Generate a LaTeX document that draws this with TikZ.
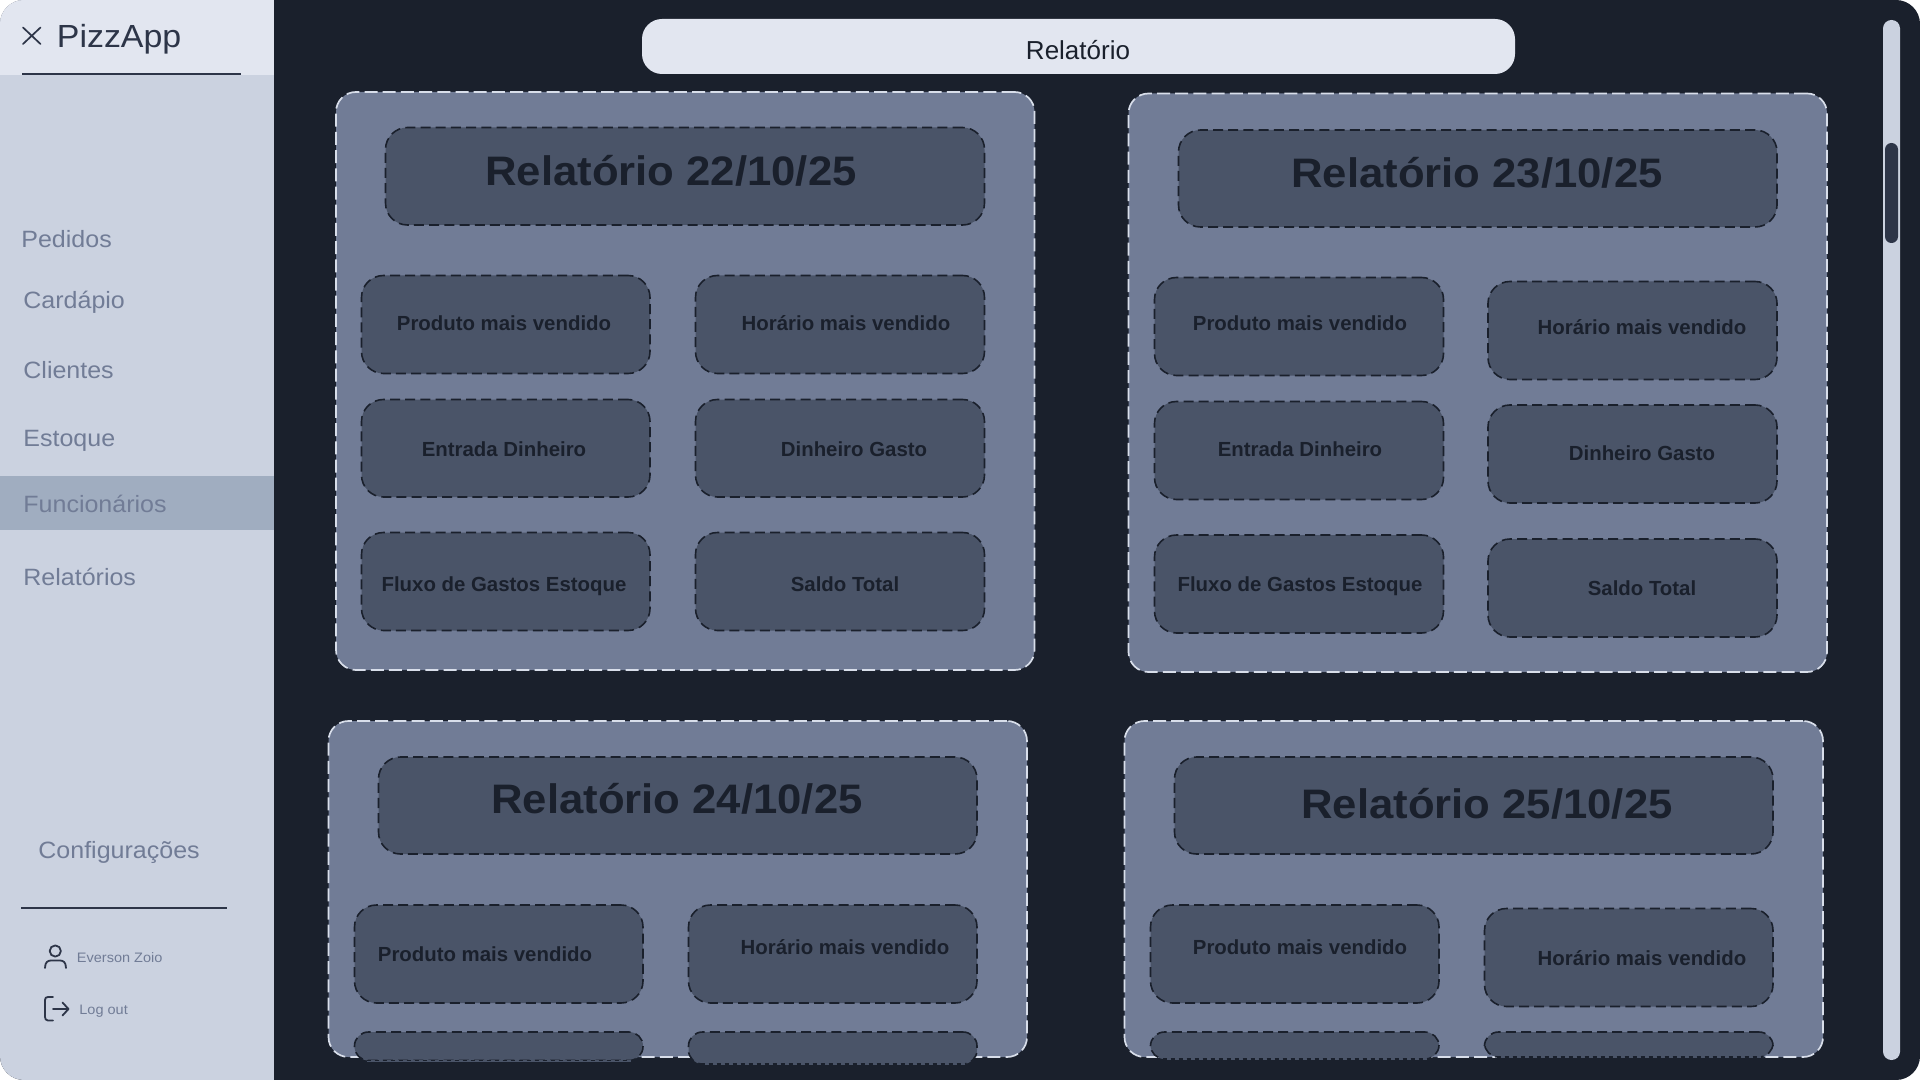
\documentclass[tikz,border=0pt]{standalone}
\usepackage{fontspec}
\setmainfont{Liberation Sans}[FakeStretch=1.06]
\newfontfamily\plainsans{Liberation Sans}
\definecolor{bgdark}{HTML}{1A202C}
\definecolor{side}{HTML}{CBD2E0}
\definecolor{head}{HTML}{E2E6F0}
\definecolor{slate}{HTML}{717C96}
\definecolor{cellc}{HTML}{4A5468}
\definecolor{ink}{HTML}{2D3548}
\definecolor{hilite}{HTML}{A0ADC0}
\definecolor{edge}{HTML}{D8DEEA}
\tikzset{
  panelbox/.style={fill=slate,draw=edge,line width=.85pt,dash pattern=on 6.5pt off 2.6pt,rounded corners=10pt},
  titlebox/.style={fill=cellc,draw=bgdark,line width=.8pt,dash pattern=on 5pt off 2.6pt,rounded corners=11pt},
  cellbox/.style={titlebox},
  stubbox/.style={fill=cellc,draw=bgdark,line width=.8pt,dash pattern=on 5pt off 2.6pt,rounded corners=7pt},
  titletext/.style={font=\fontsize{20.6}{24}\selectfont\bfseries,text=bgdark,yshift=-4.8pt},
  celltext/.style={font=\plainsans\fontsize{10.2}{12}\selectfont\bfseries,text=bgdark,yshift=-1.2pt},
  menutext/.style={font=\fontsize{11.8}{14}\selectfont,text=slate,yshift=-1.6pt},
  smalltext/.style={font=\fontsize{6.85}{9}\selectfont,text=slate},
  icon/.style={draw=ink,line width=.9pt,line cap=round,line join=round},
  stubedgeA/.style={draw=cellc,line width=1pt},
  stubedgeB/.style={draw=bgdark,line width=.75pt,dash pattern=on 2pt off 2pt},
}
\newcommand{\bx}[6]{%
  \pgfmathsetmacro{\cxv}{(#2+#4)/2}\pgfmathsetmacro{\cyv}{(#3+#5)/2}%
  \pgfmathsetmacro{\wv}{(#4-#2)*.5}\pgfmathsetmacro{\hv}{(#5-#3)*.5}%
  \node[#6,inner sep=0pt,outer sep=0pt,minimum width=\wv pt,minimum height=\hv pt] (#1) at (\cxv,\cyv) {};}
\newcommand{\lb}[5]{\node[#4,anchor=mid,inner sep=0pt] (#1) at (#2,#3) {#5};}
\newcommand{\lbl}[5]{\node[#4,anchor=mid west,inner sep=0pt] (#1) at (#2,#3) {#5};}
\newcommand{\stubfix}[1]{%
  \draw[stubedgeA] ([xshift=6pt]#1.south west) -- ([xshift=-6pt]#1.south east);
  \draw[stubedgeB] ([xshift=6pt]#1.south west) -- ([xshift=-6pt]#1.south east);}
\begin{document}
\begin{tikzpicture}[x=.5pt,y=-.5pt]
\useasboundingbox (0,0) rectangle (1920,1080);
\fill[white] (0,0) rectangle (1920,1080);
\begin{scope}
\clip[rounded corners=12pt] (0,0) rectangle (1920,1080);
\fill[bgdark] (0,0) rectangle (1920,1080);
\fill[side] (0,0) rectangle (274,1080);
\fill[head] (0,0) rectangle (274,75);
\fill[hilite] (0,476) rectangle (274,530);
\end{scope}
% sidebar
\draw[icon,line width=.85pt] (23,27.5) -- (40.5,44) (40.5,27.5) -- (23,44);
\lbl{brand}{56.5}{36}{font=\fontsize{16}{20}\selectfont,text=ink,yshift=-3pt}{PizzApp}
\draw[ink,line width=.9pt] (22,74) -- (241,74);
\lbl{mPed}{21}{239}{menutext}{Pedidos}
\lbl{mCar}{23}{300}{menutext}{Cardápio}
\lbl{mCli}{23}{370}{menutext}{Clientes}
\lbl{mEst}{23}{438}{menutext}{Estoque}
\lbl{mFun}{23}{504}{menutext}{Funcionários}
\lbl{mRel}{23}{577}{menutext}{Relatórios}
\lbl{mCfg}{38}{850}{menutext}{Configurações}
\draw[ink,line width=.9pt] (21,908) -- (227,908);
\draw[icon] (55.3,951) circle[radius=5.6];
\draw[icon] (45,968) .. controls (45,962) and (48,960.5) .. (51,960.5) -- (60,960.5) .. controls (63,960.5) and (66,962) .. (66,968);
\lbl{mUser}{76.5}{957}{smalltext}{Everson Zoio}
\draw[icon] (53,997) -- (48,997) .. controls (46,997) and (45,998) .. (45,1000) -- (45,1017) .. controls (45,1019) and (46,1020.5) .. (48,1020.5) -- (53,1020.5);
\draw[icon] (53,1009) -- (68.5,1009) (62.5,1002.5) -- (68.5,1009) -- (62.5,1015.5);
\lbl{mOut}{79}{1009}{smalltext}{Log out}
% top bar
\bx{topbar}{642}{19}{1515}{74}{fill=head,rounded corners=10pt}
\lb{topbarT}{1078}{50}{font=\plainsans\fontsize{13}{16}\selectfont,text=bgdark,yshift=-2.3pt}{Relatório}
% scrollbar
\bx{track}{1883}{20}{1900}{1060}{fill=side,rounded corners=4.2pt}
\bx{thumb}{1885}{143}{1898}{243}{fill=ink,rounded corners=3.2pt}
% panel A
\bx{A}{336}{92}{1034.5}{670}{panelbox}
\bx{At}{385.5}{127.5}{984.5}{225}{titlebox}
\lb{AtT}{671}{171}{titletext}{Relatório 22/10/25}
\bx{A1}{361.5}{275.5}{650}{373.5}{cellbox}
\bx{A2}{695.5}{275.5}{984.5}{373.5}{cellbox}
\bx{A3}{361.5}{399.5}{650}{497}{cellbox}
\bx{A4}{695.5}{399.5}{984.5}{497}{cellbox}
\bx{A5}{361.5}{532.5}{650}{630.5}{cellbox}
\bx{A6}{695.5}{532.5}{984.5}{630.5}{cellbox}
\lb{A1T}{504}{323}{celltext}{Produto mais vendido}
\lb{A2T}{846}{323}{celltext}{Horário mais vendido}
\lb{A3T}{504}{449}{celltext}{Entrada Dinheiro}
\lb{A4T}{854}{449}{celltext}{Dinheiro Gasto}
\lb{A5T}{504}{584}{celltext}{Fluxo de Gastos Estoque}
\lb{A6T}{845}{584}{celltext}{Saldo Total}
% panel B
\bx{B}{1128.5}{93.5}{1827}{672}{panelbox}
\bx{Bt}{1178.5}{130}{1777}{227}{titlebox}
\lb{BtT}{1477}{173}{titletext}{Relatório 23/10/25}
\bx{B1}{1154.5}{277.5}{1443.5}{375.5}{cellbox}
\bx{B2}{1488}{281.5}{1777}{379.5}{cellbox}
\bx{B3}{1154.5}{401.5}{1443.5}{499.5}{cellbox}
\bx{B4}{1488}{405}{1777}{503}{cellbox}
\bx{B5}{1154.5}{535}{1443.5}{633}{cellbox}
\bx{B6}{1488}{539}{1777}{637}{cellbox}
\lb{B1T}{1300}{323}{celltext}{Produto mais vendido}
\lb{B2T}{1642}{327}{celltext}{Horário mais vendido}
\lb{B3T}{1300}{449}{celltext}{Entrada Dinheiro}
\lb{B4T}{1642}{453}{celltext}{Dinheiro Gasto}
\lb{B5T}{1300}{584}{celltext}{Fluxo de Gastos Estoque}
\lb{B6T}{1642}{588}{celltext}{Saldo Total}
% panel C
\bx{C}{328.5}{721}{1027}{1057}{panelbox}
\bx{Ct}{378.5}{757}{977}{854}{titlebox}
\lb{CtT}{677}{799}{titletext}{Relatório 24/10/25}
\bx{C1}{354.5}{905}{643}{1003}{cellbox}
\bx{C2}{688.5}{905}{977}{1003}{cellbox}
\lb{C1T}{485}{954}{celltext}{Produto mais vendido}
\lb{C2T}{845}{947}{celltext}{Horário mais vendido}
\bx{C3}{354.5}{1032}{643}{1060.5}{stubbox}
\bx{C4}{688.5}{1032}{977}{1064}{stubbox}
\stubfix{C3}
\stubfix{C4}
% panel D
\bx{D}{1124.5}{721}{1823}{1057}{panelbox}
\bx{Dt}{1174.5}{757}{1773}{854}{titlebox}
\lb{DtT}{1487}{804}{titletext}{Relatório 25/10/25}
\bx{D1}{1150.5}{905}{1439}{1003}{cellbox}
\bx{D2}{1484.5}{908.5}{1773}{1006.5}{cellbox}
\lb{D1T}{1300}{947}{celltext}{Produto mais vendido}
\lb{D2T}{1642}{958}{celltext}{Horário mais vendido}
\bx{D3}{1150.5}{1032}{1439}{1059}{stubbox}
\bx{D4}{1484.5}{1032}{1773}{1057}{stubbox}
\stubfix{D3}
\stubfix{D4}
\end{tikzpicture}
\end{document}
